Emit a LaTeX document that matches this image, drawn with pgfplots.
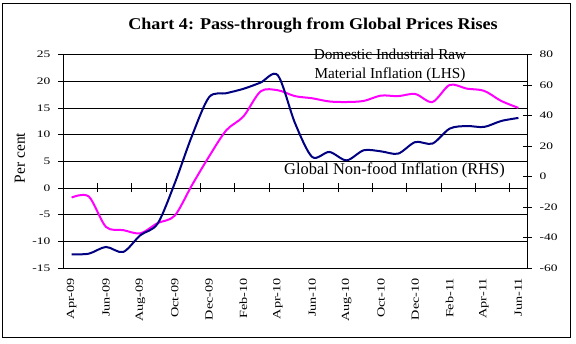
\documentclass[border=0pt]{standalone}
\usepackage{pgfplots}
\pgfplotsset{compat=1.18}
\usepackage{fontspec}
\setmainfont{Liberation Serif}
\usepackage{graphicx}
\definecolor{navyline}{RGB}{0,0,128}
\definecolor{magline}{RGB}{255,0,255}
\newcommand{\tl}[1]{\scalebox{1.35}[1]{#1}}
\newcommand{\xl}[1]{\scalebox{1.3}[1]{#1}}
\newcommand{\tf}{\fontsize{10}{12}\selectfont}

\pgfplotstableread{
i v
0 -1.8
1 -1.6
2 -7.3
3 -7.9
4 -8.5
5 -6.6
6 -5.2
7 0.5
8 5.9
9 10.8
10 13.4
11 18.1
12 18.3
13 17.2
14 16.8
15 16.2
16 16.1
17 16.3
18 17.3
19 17.2
20 17.6
21 16.1
22 19.3
23 18.6
24 18.2
25 16.3
26 15.0
}\domestic

\pgfplotstableread{
i v
0 -51.0
1 -50.6
2 -46.2
3 -49.5
4 -38.5
5 -31.0
6 -4.5
7 26.5
8 52.0
9 54.6
10 57.5
11 61.6
12 66.4
13 35.0
14 12.8
15 16.1
16 10.6
17 17.2
18 16.5
19 15.0
20 22.6
21 21.6
22 31.4
23 33.1
24 32.5
25 36.4
26 38.4
}\globalnf

\begin{document}
\begin{tikzpicture}[x=1bp,y=1bp]
\useasboundingbox (-63,-75) rectangle (513,268);
\draw[line width=1bp] (-60.5,-69) rectangle (507,265);

\begin{axis}[
  at={(0,0)}, anchor=south west,
  scale only axis, width=464bp, height=213.5bp,
  xmin=-0.5, xmax=26.5, ymin=-15, ymax=25,
  axis x line=middle, axis y line=left,
  x axis line style={-, black, line width=0.6bp},
  y axis line style={-, black, line width=0.8bp},
  xtick={1.5,3.5,5.5,7.5,9.5,11.5,13.5,15.5,17.5,19.5,21.5,23.5,25.5},
  xticklabels={},
  extra x ticks={0,2,...,26},
  extra x tick labels={\xl{Apr-09},\xl{Jun-09},\xl{Aug-09},\xl{Oct-09},\xl{Dec-09},\xl{Feb-10},\xl{Apr-10},\xl{Jun-10},\xl{Aug-10},\xl{Oct-10},\xl{Dec-10},\xl{Feb-11},\xl{Apr-11},\xl{Jun-11}},
  extra x tick style={major tick length=0pt, xticklabel shift=90bp,
     xticklabel style={rotate=90, anchor=east, inner sep=0pt, font=\fontsize{11}{13}\selectfont}},
  x tick style={black, line width=0.8bp},
  ytick={-15,-10,...,25},
  /pgf/number format/assume math mode=true,
  yticklabel={\tl{\pgfmathprintnumber{\tick}}},
  yticklabel style={font=\tf, anchor=east, inner sep=0pt, xshift=-8bp},
  tick align=center, major tick length=9bp,
  y tick style={black, line width=0.7bp},
  ymajorgrids, grid style={black, line width=0.6bp},
]
\addplot[magline, line width=2bp, smooth] table[x=i, y=v] {\domestic};
\end{axis}

\begin{axis}[
  at={(0,0)}, anchor=south west,
  scale only axis, width=464bp, height=213.5bp,
  xmin=-0.5, xmax=26.5, ymin=-60, ymax=80,
  axis y line*=right, axis x line=none,
  ytick={-60,-40,...,80},
  /pgf/number format/assume math mode=true,
  yticklabel={\tl{\pgfmathprintnumber{\tick}}},
  yticklabel style={font=\tf, anchor=west, inner sep=0pt, xshift=8bp},
  tick align=center, major tick length=9bp,
  y tick style={black, line width=0.7bp},
  axis line style={black, line width=0.8bp},
]
\addplot[navyline, line width=2bp, smooth] table[x=i, y=v] {\globalnf};
\end{axis}

\node[anchor=base, font=\bfseries\fontsize{16.5}{18}\selectfont] at (250,238.6) {\scalebox{1.1}[1]{Chart 4: Pass-through from Global Prices Rises}};
\node[anchor=base, font=\fontsize{15.3}{18}\selectfont] at (327,208.7) {Domestic Industrial Raw};
\node[anchor=base, font=\fontsize{15.3}{18}\selectfont] at (327,189.7) {Material Inflation (LHS)};
\node[anchor=base, font=\fontsize{16.5}{19}\selectfont] at (331.5,94) {Global Non-food Inflation (RHS)};
\node[rotate=90, font=\fontsize{15.5}{18}\selectfont] at (-43,110) {Per cent};
\end{tikzpicture}
\end{document}
